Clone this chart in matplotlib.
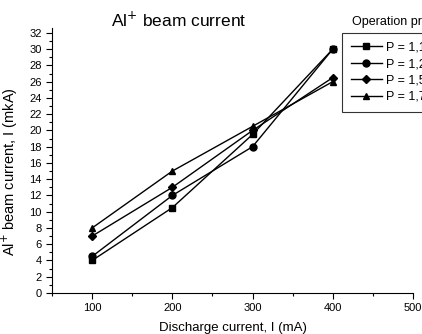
import matplotlib.pyplot as plt
from matplotlib.ticker import MultipleLocator

plt.rcParams['font.family'] = ['Liberation Sans', 'DejaVu Sans']

# discharge current, mA
discharge = [100, 200, 300, 400]

# beam current, mkA, one list per pressure
p11 = [4.0, 10.5, 19.5, 30.0]
p12 = [4.5, 12.0, 18.0, 30.0]
p15 = [7.0, 13.0, 20.0, 26.5]
p17 = [8.0, 15.0, 20.5, 26.0]

labels = ['P = 1,1\u00b710\u207b\u2075 Torr', 'P = 1,2\u00b710\u207b\u2075 Torr',
          'P = 1,5\u00b710\u207b\u2075 Torr', 'P = 1,7\u00b710\u207b\u2075 Torr']
markers = ['s', 'o', 'D', '^']
sizes = [4, 5, 4, 5]

fig = plt.figure(figsize=(4.22, 3.34), dpi=100)
ax = fig.add_axes([52 / 422, 41 / 334, 361 / 422, 265 / 334])

for ys, m, ms, lab in zip([p11, p12, p15, p17], markers, sizes, labels):
    ax.plot(discharge, ys, color='black', lw=1, marker=m, markersize=ms, label=lab)

ax.set_xlim(50, 500)
ax.set_ylim(0, 32.6)
ax.xaxis.set_major_locator(MultipleLocator(100))
ax.xaxis.set_minor_locator(MultipleLocator(50))
ax.yaxis.set_major_locator(MultipleLocator(2))
ax.yaxis.set_minor_locator(MultipleLocator(1))
ax.spines['top'].set_visible(False)
ax.spines['right'].set_visible(False)
ax.tick_params(which='major', direction='out', length=4, labelsize=8, width=0.8)
ax.tick_params(which='minor', direction='out', length=2, width=0.8)

ax.set_xlabel('Discharge current, I (mA)', fontsize=9.5, labelpad=6)
ax.set_ylabel('Al$^{+}$ beam current, I (mkA)', fontsize=10.5)
ax.yaxis.set_label_coords(-0.089, 0.457)

fig.text(179 / 422, 1 - 20 / 334, 'Al$^{+}$ beam current', fontsize=12.5,
         ha='center', va='center')
fig.text(352 / 422, 1 - 22 / 334, 'Operation pressure:', fontsize=9,
         ha='left', va='center')

leg = ax.legend(loc='upper left', bbox_to_anchor=(342 / 422, 1 - 33 / 334),
                bbox_transform=fig.transFigure, fontsize=9, frameon=True,
                fancybox=False, edgecolor='black', handlelength=2.5,
                handletextpad=0.3, labelspacing=0.35, borderpad=0.7,
                borderaxespad=0)
leg.get_frame().set_linewidth(0.8)

fig.savefig('out.png', dpi=100)
